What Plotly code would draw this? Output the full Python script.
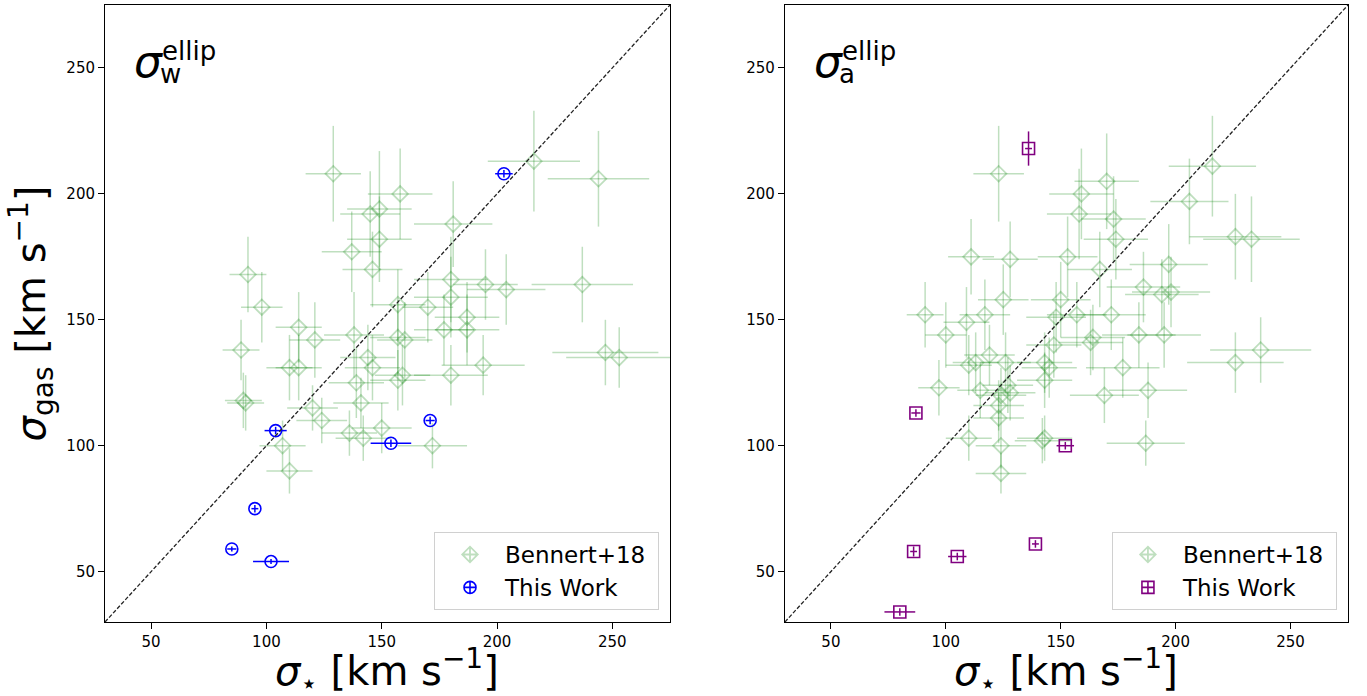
import plotly.graph_objects as go

# Bennert+18 comparison sample, weighted-ellipse gas dispersion (left panel)
b18_w_star = [129, 158, 149, 145, 149, 137, 146, 92, 98, 114, 121, 89, 138, 181, 216, 244,
              180, 180, 170, 157, 195, 204, 237, 187, 177, 187, 157, 160, 247, 253, 194, 180,
              157, 159, 150, 172, 110, 114, 144, 146, 139, 90, 91, 120, 124, 141, 136, 142,
              107, 110]
b18_w_gas = [208, 200, 194, 192, 182, 177, 170, 168, 155, 147, 142, 138, 144, 188, 213, 206,
             166, 159, 155, 156, 164, 162, 164, 151, 146, 146, 143, 142, 137, 135, 132, 128,
             126, 128, 107, 100, 131, 131, 135, 131, 125, 118, 117, 115, 110, 117, 105, 103,
             100, 90]
b18_w_star_err = [12, 14, 14, 13, 14, 13, 13, 8, 9, 10, 11, 8, 13, 17, 20, 22,
                  16, 16, 11, 12, 14, 17, 22, 14, 13, 14, 12, 12, 23, 23, 18, 16,
                  12, 12, 13, 15, 10, 10, 12, 12, 12, 8, 8, 11, 11, 12, 12, 12,
                  10, 10]
b18_w_gas_err = [19, 18, 23, 17, 17, 16, 15, 15, 14, 14, 15, 12, 17, 17, 20, 19,
                 17, 16, 14, 14, 14, 14, 15, 14, 14, 14, 15, 15, 13, 12, 12, 12,
                 12, 12, 10, 9, 13, 13, 13, 13, 14, 11, 11, 9, 9, 10, 9, 9,
                 10, 9]

# Bennert+18 comparison sample, aperture-ellipse gas dispersion (right panel)
b18_a_star = [123, 159, 158, 170, 173, 174, 216, 206, 226, 233, 111, 128, 153, 167, 197, 125,
              150, 186, 194, 198, 91, 109, 117, 148, 157, 172, 100, 147, 184, 195, 164, 163,
              237, 226, 119, 113, 110, 126, 143, 145, 177, 97, 115, 127, 128, 124, 143, 169,
              188, 123, 123, 110, 124, 143, 142, 187, 124]
b18_a_gas = [208, 200, 192, 205, 190, 182, 211, 197, 183, 182, 175, 174, 175, 170, 172, 158,
             158, 163, 160, 161, 152, 149, 152, 151, 152, 152, 144, 140, 144, 144, 143, 141,
             138, 133, 136, 133, 132, 133, 133, 131, 131, 123, 122, 124, 121, 120, 126, 120,
             122, 116, 111, 103, 100, 103, 102, 101, 89]
b18_a_star_err = [11, 14, 14, 14, 14, 14, 19, 17, 20, 21, 10, 12, 13, 14, 17, 11,
                  13, 16, 16, 17, 8, 10, 11, 13, 13, 15, 9, 12, 16, 16, 14, 14,
                  22, 21, 11, 10, 10, 11, 12, 12, 16, 9, 10, 11, 11, 11, 12, 15,
                  17, 11, 11, 10, 11, 12, 12, 17, 11]
b18_a_gas_err = [19, 18, 18, 19, 17, 16, 20, 17, 17, 17, 15, 15, 16, 15, 16, 14,
                 15, 14, 14, 14, 13, 14, 14, 14, 13, 14, 13, 13, 13, 13, 13, 13,
                 13, 12, 12, 12, 12, 12, 12, 12, 12, 11, 11, 11, 11, 11, 11, 11,
                 11, 10, 10, 9, 9, 9, 9, 9, 8]

# This work, weighted ellipse
tw_w_star = [203, 104, 95, 85, 102, 154, 171]
tw_w_gas = [208, 106, 75, 59, 54, 101, 110]
tw_w_star_err = [3.8, 4.8, 1.5, 2, 7.8, 8.8, 2]
tw_w_gas_err = [1.5, 1.5, 1.5, 1, 1, 1.5, 1.5]

# This work, aperture ellipse
tw_a_star = [136, 87, 152, 86, 105, 139, 80]
tw_a_gas = [218, 113, 100, 58, 56, 61, 34]
tw_a_star_err = [1.5, 2, 3.8, 1.5, 4, 1.5, 6.7]
tw_a_gas_err = [6.8, 1.5, 1.5, 2, 1.5, 1.5, 1.5]

AXIS_RANGE = [30, 275]
TICKS = [50, 100, 150, 200, 250]

FONT = "DejaVu Sans"
GREEN = "rgba(0,128,0,0.25)"
BLUE = "#0000ff"
PURPLE = "#800080"
PAD = "\u00a0"  # keeps a little room after the legend labels

# plot-area geometry in pixels
FIG_W, FIG_H = 1367, 696
M_L, M_R, M_T, M_B = 105, 19, 5, 74
PLOT_H = FIG_H - M_T - M_B

fig = go.Figure()


def add_panel(xa, ya, legend, bx, by, bxe, bye, tx, ty, txe, tye, tw_color, tw_symbol):
    fig.add_trace(go.Scatter(
        x=bx, y=by, mode="markers", name="Bennert+18", showlegend=False,
        xaxis=xa, yaxis=ya,
        marker=dict(symbol="diamond-open", size=12, color=GREEN, line=dict(width=1.8, color=GREEN)),
        error_x=dict(type="data", array=bxe, color=GREEN, thickness=1.5, width=0),
        error_y=dict(type="data", array=bye, color=GREEN, thickness=1.5, width=0),
    ))
    fig.add_trace(go.Scatter(
        x=tx, y=ty, mode="markers", name="This Work", showlegend=False,
        xaxis=xa, yaxis=ya,
        marker=dict(symbol=tw_symbol, size=12, color=tw_color, line=dict(width=1.6, color=tw_color)),
        error_x=dict(type="data", array=txe, color=tw_color, thickness=1.5, width=0),
        error_y=dict(type="data", array=tye, color=tw_color, thickness=1.5, width=0),
    ))
    # one-to-one relation
    fig.add_trace(go.Scatter(
        x=AXIS_RANGE, y=AXIS_RANGE, mode="lines", showlegend=False, hoverinfo="skip",
        xaxis=xa, yaxis=ya,
        line=dict(color="#222222", width=1.3, dash="4px,2px"),
    ))
    # legend keys: marker with the error-bar cross through it
    fig.add_trace(go.Scatter(
        x=[None], y=[None], mode="markers", name="Bennert+18" + PAD, legend=legend,
        xaxis=xa, yaxis=ya,
        marker=dict(symbol="diamond-cross-open", size=12, color=GREEN,
                    line=dict(width=1.8, color=GREEN)),
    ))
    fig.add_trace(go.Scatter(
        x=[None], y=[None], mode="markers", name="This Work" + PAD, legend=legend,
        xaxis=xa, yaxis=ya,
        marker=dict(symbol=tw_symbol.replace("-open", "-cross-open"), size=12, color=tw_color,
                    line=dict(width=1.6, color=tw_color)),
    ))


add_panel("x", "y", "legend", b18_w_star, b18_w_gas, b18_w_star_err, b18_w_gas_err,
          tw_w_star, tw_w_gas, tw_w_star_err, tw_w_gas_err, BLUE, "circle-open")
add_panel("x2", "y2", "legend2", b18_a_star, b18_a_gas, b18_a_star_err, b18_a_gas_err,
          tw_a_star, tw_a_gas, tw_a_star_err, tw_a_gas_err, PURPLE, "square-open")

axis_common = dict(
    range=AXIS_RANGE, tickvals=TICKS, ticks="outside", ticklen=6, tickwidth=1,
    tickcolor="black", showline=True, mirror=True, linecolor="black", linewidth=1,
    showgrid=False, zeroline=False, tickfont=dict(family=FONT, size=15, color="black"),
)
ytitle = dict(text="<i>σ</i><sub>gas</sub> [km s<sup>−1</sup>]",
              font=dict(family=FONT, size=40, color="black"), standoff=8)

legend_common = dict(
    font=dict(family=FONT, size=23, color="black"), bgcolor="white",
    bordercolor="#d0d0d0", borderwidth=1, xanchor="right", yanchor="bottom",
    itemwidth=60, tracegroupgap=0,
)

fig.update_layout(
    width=FIG_W, height=FIG_H,
    margin=dict(l=M_L, r=M_R, t=M_T, b=M_B),
    paper_bgcolor="white", plot_bgcolor="white",
    xaxis=dict(domain=[0, 0.4545], anchor="y", **axis_common),
    yaxis=dict(domain=[0, 1], anchor="x", title=ytitle, **axis_common),
    xaxis2=dict(domain=[0.547, 1.0], anchor="y2", **axis_common),
    yaxis2=dict(domain=[0, 1], anchor="x2", **axis_common),
    legend=dict(x=0.4457, y=0.0194, **legend_common),
    legend2=dict(x=0.9911, y=0.0194, **legend_common),
)

# x-axis titles, set at the bottom edge of the figure
for xd in ("x domain", "x2 domain"):
    fig.add_annotation(xref=xd, yref="paper", x=0.5, y=-M_B / PLOT_H, yshift=-6,
                       text="<i>σ</i><sub>⋆</sub> [km s<sup>−1</sup>]",
                       showarrow=False, xanchor="center", yanchor="bottom",
                       font=dict(family=FONT, size=40, color="black"))

# panel labels: sigma with sub- and superscript
for xd, yd, sub in (("x domain", "y domain", "w"), ("x2 domain", "y2 domain", "a")):
    fig.add_annotation(xref=xd, yref=yd, x=0.05, y=(622 - 61) / 617, text="<i>σ</i>",
                       showarrow=False, xanchor="left", yanchor="middle", borderpad=0,
                       font=dict(family=FONT, size=44, color="black"))
    fig.add_annotation(xref=xd, yref=yd, x=0.1, y=(622 - 51) / 617, text="ellip",
                       showarrow=False, xanchor="left", yanchor="middle", borderpad=0,
                       font=dict(family=FONT, size=26, color="black"))
    fig.add_annotation(xref=xd, yref=yd, x=0.095, y=(622 - 74) / 617, text=sub,
                       showarrow=False, xanchor="left", yanchor="middle", borderpad=0,
                       font=dict(family=FONT, size=26, color="black"))

fig.write_html("out.html")
